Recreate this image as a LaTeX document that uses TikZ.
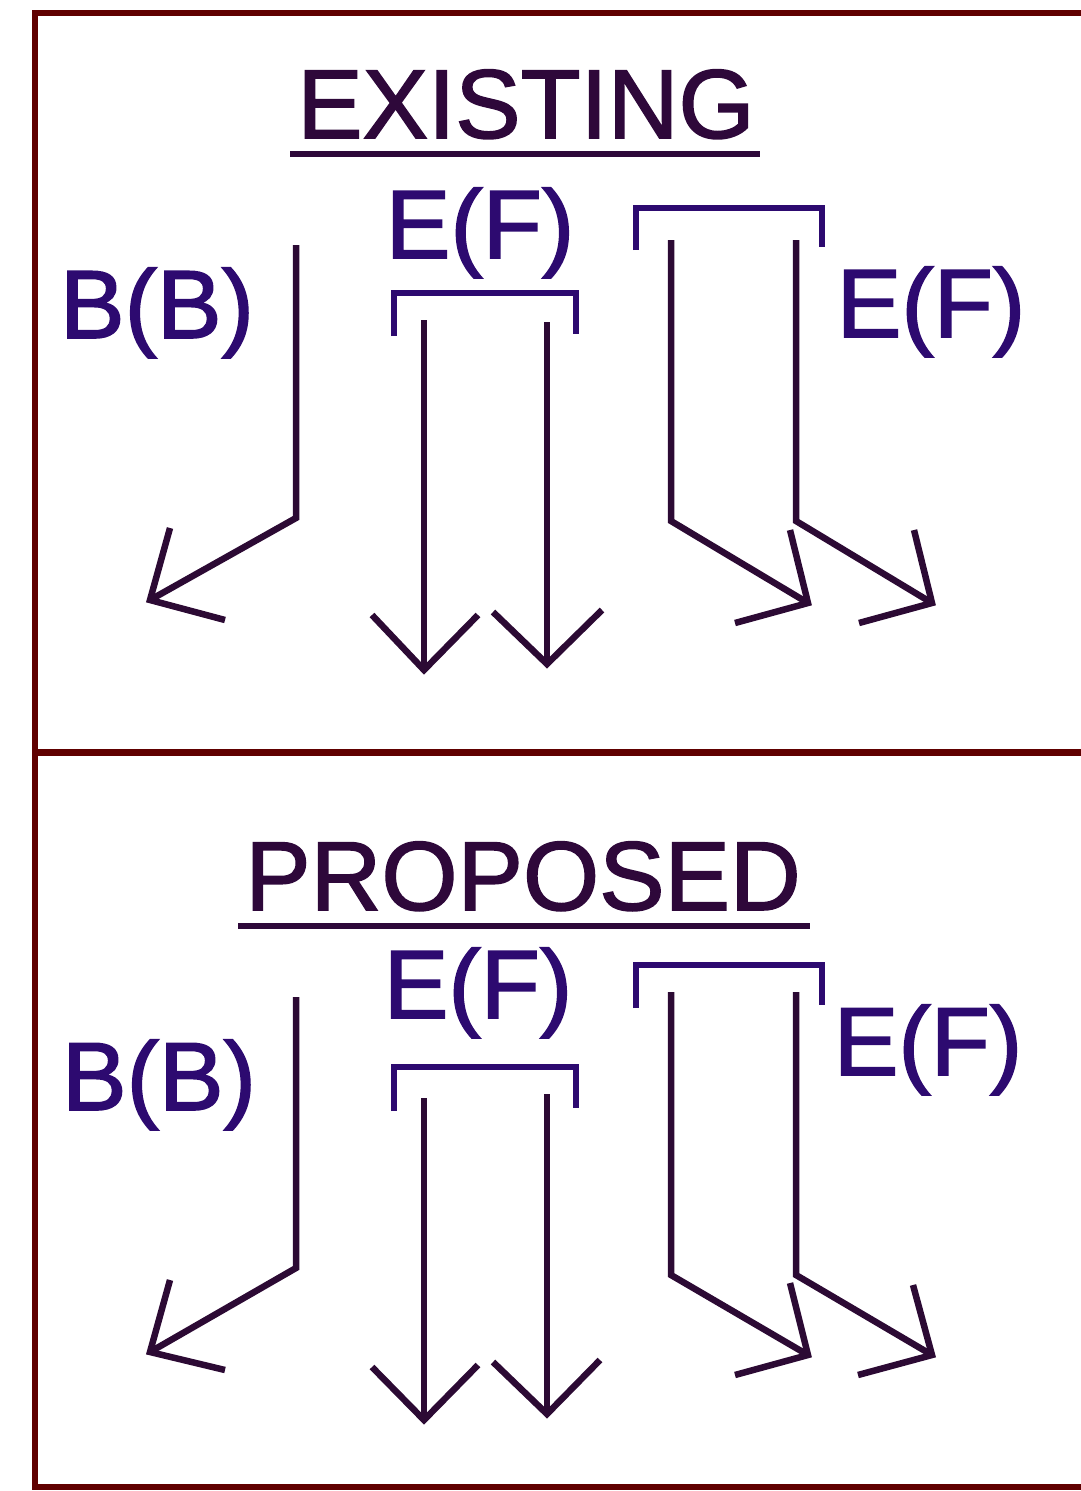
\documentclass[tikz,border=0pt]{standalone}
\usepackage{fontspec}
\setmainfont{Liberation Sans}
\newfontfamily\heavysans[FakeBold=1.6]{Liberation Sans}
\definecolor{framec}{RGB}{96,0,0}
\definecolor{titlec}{RGB}{46,8,58}
\definecolor{labelc}{RGB}{45,10,112}
\definecolor{arrowc}{RGB}{44,10,52}
\begin{document}
\begin{tikzpicture}[x=1pt,y=-1pt,
  framestyle/.style={draw=framec,line width=6pt},
  titletext/.style={inner sep=0pt,anchor=base,text=titlec,font=\heavysans\fontsize{98}{100}\selectfont},
  labeltext/.style={inner sep=0pt,anchor=base,text=labelc,font=\heavysans\fontsize{97}{100}\selectfont},
  uline/.style={draw=titlec,line width=6.5pt},
  flow/.style={draw=arrowc,line width=6.5pt,line join=miter},
  brk/.style={draw=labelc,line width=6.5pt,line join=miter}]
\useasboundingbox (0,0) rectangle (1080,1491);
% frame
\coordinate (ftl) at (35,13);
\coordinate (ftr) at (1083,13);
\coordinate (fml) at (35,752);
\coordinate (fmr) at (1083,752);
\coordinate (fbl) at (35,1487);
\coordinate (fbr) at (1083,1487);
\draw[framestyle] (ftr) -- (ftl) -- (fbl) -- (fbr);
\draw[framestyle,line width=7pt] (fml) -- (fmr);

% ---------------- EXISTING panel ----------------
\node[titletext] (t1) at (526,138) {EXISTING};
\coordinate (u1a) at (290,154);
\coordinate (u1b) at (760,154);
\draw[uline] (u1a) -- (u1b);
\node[labeltext] (ef1) at (480,258) {E(F)};
\node[labeltext] (bb1) at (157,338) {B(B)};
\node[labeltext] (efr1) at (931,337) {E(F)};
% B(B) arrow
\coordinate (b1s) at (296,245);
\coordinate (b1c) at (296,518);
\coordinate (b1t) at (150,600);
\coordinate (b1h1) at (170,528);
\coordinate (b1h2) at (225,620);
\draw[flow] (b1s) -- (b1c) -- (b1t);
\draw[flow] (b1h1) -- (b1t) -- (b1h2);
% middle bracket
\draw[brk] (394,336) -- (394,293) -- (576,293) -- (576,334);
% middle arrows
\coordinate (m1s) at (424,320);
\coordinate (m1t) at (424,670);
\draw[flow] (m1s) -- (m1t);
\draw[flow] (372,615) -- (m1t) -- (478,615);
\coordinate (m2s) at (547,322);
\coordinate (m2t) at (547,664);
\draw[flow] (m2s) -- (m2t);
\draw[flow] (493,612) -- (m2t) -- (602,610);
% right bracket
\draw[brk] (636,250) -- (636,208) -- (822,208) -- (822,247);
% right arrows
\coordinate (r1s) at (671,240);
\coordinate (r1c) at (671,521);
\coordinate (r1t) at (808,603);
\draw[flow] (r1s) -- (r1c) -- (r1t);
\draw[flow] (790,530) -- (r1t) -- (735,623);
\coordinate (r2s) at (796,240);
\coordinate (r2c) at (796,521);
\coordinate (r2t) at (932,603);
\draw[flow] (r2s) -- (r2c) -- (r2t);
\draw[flow] (914,530) -- (r2t) -- (859,623);

% ---------------- PROPOSED panel ----------------
\node[titletext] (t2) at (523,910) {PROPOSED};
\coordinate (u2a) at (238,926);
\coordinate (u2b) at (810,926);
\draw[uline] (u2a) -- (u2b);
\node[labeltext] (ef2) at (478,1018) {E(F)};
\node[labeltext] (bb2) at (159,1110) {B(B)};
\node[labeltext] (efr2) at (928,1075) {E(F)};
% B(B) arrow
\coordinate (b2s) at (296,997);
\coordinate (b2c) at (296,1268);
\coordinate (b2t) at (150,1352);
\draw[flow] (b2s) -- (b2c) -- (b2t);
\draw[flow] (170,1280) -- (b2t) -- (225,1370);
% middle bracket
\draw[brk] (394,1111) -- (394,1067) -- (576,1067) -- (576,1108);
% middle arrows
\coordinate (m3s) at (424,1098);
\coordinate (m3t) at (424,1420);
\draw[flow] (m3s) -- (m3t);
\draw[flow] (372,1367) -- (m3t) -- (478,1365);
\coordinate (m4s) at (547,1094);
\coordinate (m4t) at (547,1414);
\draw[flow] (m4s) -- (m4t);
\draw[flow] (493,1362) -- (m4t) -- (600,1360);
% right bracket
\draw[brk] (636,1008) -- (636,965) -- (822,965) -- (822,1005);
% right arrows
\coordinate (r3s) at (671,992);
\coordinate (r3c) at (671,1275);
\coordinate (r3t) at (808,1355);
\draw[flow] (r3s) -- (r3c) -- (r3t);
\draw[flow] (790,1283) -- (r3t) -- (735,1375);
\coordinate (r4s) at (796,992);
\coordinate (r4c) at (796,1275);
\coordinate (r4t) at (932,1355);
\draw[flow] (r4s) -- (r4c) -- (r4t);
\draw[flow] (913,1285) -- (r4t) -- (858,1375);
\end{tikzpicture}
\end{document}
